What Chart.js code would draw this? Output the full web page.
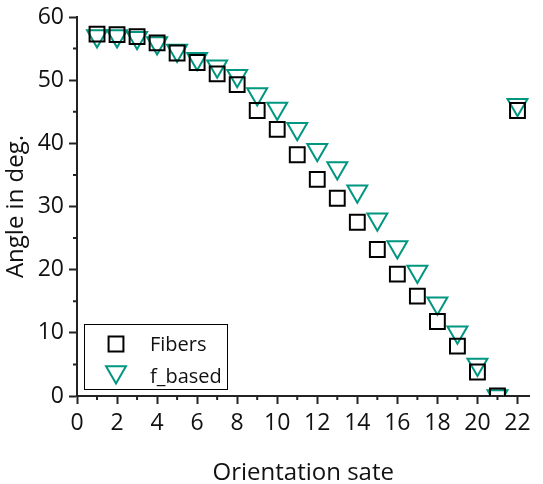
<!DOCTYPE html>
<html>
<head>
<meta charset="utf-8">
<script src="https://cdn.jsdelivr.net/npm/chart.js@4.4.1/dist/chart.umd.min.js"></script>
<style>
  html, body { margin: 0; padding: 0; background: #fff; }
  #wrap { position: relative; width: 543px; height: 484px; }
</style>
</head>
<body>
<div id="wrap"><canvas id="chart"></canvas></div>
<script>
// Orientation states and measured angles (deg.)
const states = [1, 2, 3, 4, 5, 6, 7, 8, 9, 10, 11, 12, 13, 14, 15, 16, 17, 18, 19, 20, 21, 22];
const fibers = [57.3, 57.2, 56.9, 55.9, 54.3, 52.8, 51.0, 49.3, 45.2, 42.2, 38.2, 34.3, 31.3, 27.5, 23.2, 19.3, 15.8, 11.8, 7.9, 3.8, 0.0, 45.2];
const fBased = [57.0, 57.0, 56.7, 55.9, 54.7, 53.4, 52.2, 50.7, 47.8, 45.5, 42.3, 39.0, 36.1, 32.4, 28.0, 23.6, 19.7, 14.7, 10.1, 5.0, 0.0, 46.1];

const xTicks = [0, 2, 4, 6, 8, 10, 12, 14, 16, 18, 20, 22];
const xMinor = [1, 3, 5, 7, 9, 11, 13, 15, 17, 19, 21];
const yTicks = [0, 10, 20, 30, 40, 50, 60];
const yMinor = [5, 15, 25, 35, 45, 55];

const seriesNames = ['Fibers', 'f_based'];

const fontFam = '"Open Sans", "Noto Sans", sans-serif';
const axisCol = '#222';
const teal = '#00967f';

const toPoints = (vals) => states.map((s, i) => ({ x: s, y: vals[i] }));

// petits ticks mineurs (Chart.js n'en a pas)
const minorTicks = {
    id: 'minorTicks',
    afterDraw(chart) {
        const { ctx, chartArea, scales } = chart;
        ctx.save();
        ctx.strokeStyle = axisCol;
        ctx.lineWidth = 2;
        ctx.beginPath();
        xMinor.forEach(v => {
            const px = scales.x.getPixelForValue(v);
            ctx.moveTo(px, chartArea.bottom);
            ctx.lineTo(px, chartArea.bottom + 4);
        });
        yMinor.forEach(v => {
            const py = scales.y.getPixelForValue(v);
            ctx.moveTo(chartArea.left, py);
            ctx.lineTo(chartArea.left - 4, py);
        });
        ctx.stroke();
        ctx.restore();
    }
};

// legende encadree dans la zone du graphe
const boxLegend = {
    id: 'boxLegend',
    afterDraw(chart) {
        const { ctx } = chart;
        const sets = chart.data.datasets;
        ctx.save();
        ctx.strokeStyle = '#000';
        ctx.lineWidth = 1;
        ctx.strokeRect(84.5, 324.5, 143, 65);

        const rows = [344, 372];
        const baselines = [351, 383];
        sets.forEach((ds, i) => {
            ctx.strokeStyle = ds.borderColor;
            ctx.lineWidth = ds.borderWidth;
            ctx.fillStyle = 'rgba(0,0,0,0)';
            Chart.helpers.drawPoint(ctx, {
                pointStyle: ds.pointStyle,
                rotation: ds.pointRotation || 0,
                radius: ds.pointRadius,
                borderWidth: ds.borderWidth
            }, 116, rows[i]);
            ctx.fillStyle = '#111';
            ctx.font = '20px ' + fontFam;
            ctx.textBaseline = 'alphabetic';
            ctx.textAlign = 'left';
            ctx.fillText(seriesNames[i], 150, baselines[i]);
        });
        ctx.restore();
    }
};

new Chart(document.getElementById('chart'), {
    type: 'scatter',
    data: {
        datasets: [
            {
                label: seriesNames[0],
                data: toPoints(fibers),
                pointStyle: 'rect',
                pointRadius: 10.5,
                pointHoverRadius: 10.5,
                borderColor: '#000',
                backgroundColor: 'rgba(0,0,0,0)',
                borderWidth: 2,
                clip: 0
            },
            {
                label: seriesNames[1],
                data: toPoints(fBased),
                pointStyle: 'triangle',
                pointRotation: 180,
                pointRadius: 11.5,
                pointHoverRadius: 11.5,
                borderColor: teal,
                backgroundColor: 'rgba(0,0,0,0)',
                borderWidth: 2,
                clip: 0
            }
        ]
    },
    options: {
        responsive: true,
        maintainAspectRatio: false,
        animation: false,
        layout: { padding: { top: 17, right: 0, bottom: 0, left: 0 } },
        plugins: {
            legend: { display: false },
            tooltip: { enabled: false }
        },
        scales: {
            x: {
                type: 'linear',
                min: 0,
                max: 22.6,
                afterBuildTicks: (scale) => { scale.ticks = xTicks.map(v => ({ value: v })); },
                afterFit: (scale) => { scale.height = 88; scale.paddingLeft = 0; scale.paddingRight = 0; },
                grid: { drawOnChartArea: false, tickLength: 8, tickWidth: 2, tickColor: axisCol },
                border: { display: true, color: axisCol, width: 2 },
                ticks: {
                    color: '#111', padding: 6, maxRotation: 0, autoSkip: false,
                    font: { family: fontFam, size: 23 }
                },
                title: {
                    display: true, text: 'Orientation sate', color: '#111',
                    font: { family: fontFam, size: 24 },
                    padding: { top: 0, bottom: -4 }
                }
            },
            y: {
                type: 'linear',
                min: 0,
                max: 60,
                afterBuildTicks: (scale) => { scale.ticks = yTicks.map(v => ({ value: v })); },
                afterFit: (scale) => { scale.width = 77; scale.paddingTop = 0; scale.paddingBottom = 0; },
                grid: { drawOnChartArea: false, tickLength: 8, tickWidth: 2, tickColor: axisCol },
                border: { display: true, color: axisCol, width: 2 },
                ticks: {
                    color: '#111', padding: 5, autoSkip: false,
                    font: { family: fontFam, size: 23 }
                },
                title: {
                    display: true, text: 'Angle in deg.', color: '#111',
                    font: { family: fontFam, size: 24 },
                    padding: { top: 2, bottom: 0 }
                }
            }
        }
    },
    plugins: [minorTicks, boxLegend]
});
</script>
</body>
</html>
